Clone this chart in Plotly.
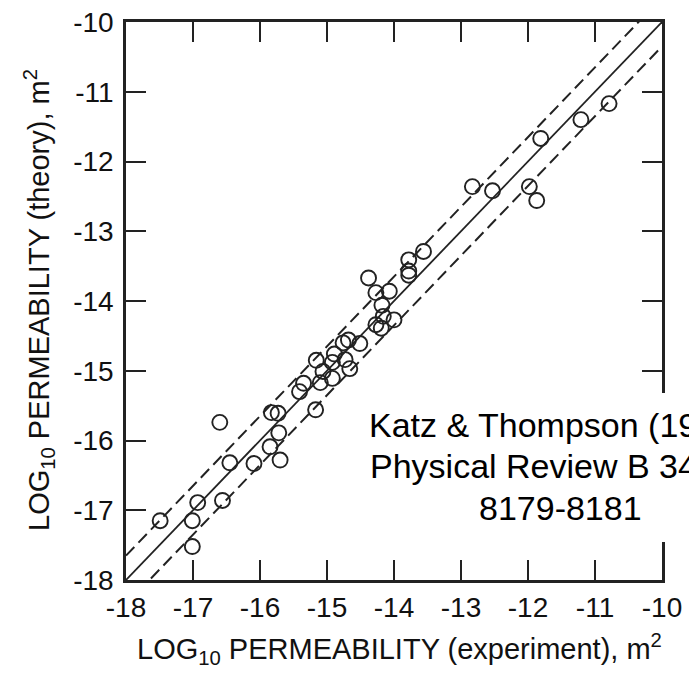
import plotly.graph_objects as go

# ---- data ----
log_k_experiment = [
    -17.49, -17.01, -17.01, -16.93, -16.56, -16.60, -16.45, -16.09, -15.85, -15.70,
    -15.72, -15.83, -15.73, -15.17, -15.41, -15.35, -15.10, -15.06, -14.92, -15.16,
    -14.89, -14.92, -14.73, -14.66, -14.76, -14.68, -14.51, -14.27, -14.19, -14.16,
    -14.00, -14.18, -14.27, -14.07, -14.38, -13.78, -13.78, -13.78, -13.56, -12.83,
    -12.53, -11.98, -11.87, -11.81, -11.21, -10.79,
]
log_k_theory = [
    -17.15, -17.15, -17.52, -16.89, -16.86, -15.74, -16.32, -16.33, -16.09, -16.28,
    -15.89, -15.60, -15.61, -15.56, -15.30, -15.18, -15.17, -15.01, -15.11, -14.85,
    -14.76, -14.88, -14.84, -14.97, -14.60, -14.56, -14.61, -14.34, -14.39, -14.22,
    -14.27, -14.06, -13.88, -13.86, -13.67, -13.41, -13.57, -13.63, -13.29, -12.36,
    -12.42, -12.36, -12.56, -11.67, -11.40, -11.17,
]
line_x = [-18, -10]
band = 0.35  # dashed-line offset (log units)
tick_vals = [-18, -17, -16, -15, -14, -13, -12, -11, -10]
tick_text = ["-18", "-17", "-16", "-15", "-14", "-13", "-12", "-11", "-10"]

FONT = "Arial, Liberation Sans, Helvetica, sans-serif"
INK = "#222222"

fig = go.Figure()
fig.add_trace(go.Scatter(x=line_x, y=line_x, mode="lines",
                         line=dict(color=INK, width=1.8), showlegend=False, hoverinfo="skip"))
fig.add_trace(go.Scatter(x=line_x, y=[v + band for v in line_x], mode="lines",
                         line=dict(color=INK, width=2, dash="12px,6px"), showlegend=False, hoverinfo="skip"))
fig.add_trace(go.Scatter(x=line_x, y=[v - band for v in line_x], mode="lines",
                         line=dict(color=INK, width=2, dash="12px,6px"), showlegend=False, hoverinfo="skip"))
fig.add_trace(go.Scatter(x=log_k_experiment, y=log_k_theory, mode="markers",
                         marker=dict(symbol="circle-open", size=15, color=INK, line=dict(width=1.9)),
                         showlegend=False))

axis_common = dict(
    range=[-18, -10], tickvals=tick_vals, ticktext=tick_text,
    showgrid=False, zeroline=False,
    showline=True, linecolor=INK, linewidth=2.5, mirror="ticks",
    ticks="inside", ticklen=20, tickwidth=2, tickcolor=INK,
    tickfont=dict(family=FONT, size=28, color="#111111"),
)
fig.update_xaxes(**axis_common, ticklabelstandoff=1)
fig.update_yaxes(**axis_common, ticklabelstandoff=4)

W, H = 689, 673
L, R, T, B = 126, 27, 22, 93
pw, ph = W - L - R, H - T - B

def px(xp):
    return (xp - L) / pw

def py(yp):
    return (H - B - yp) / ph

# white box behind the citation text
fig.add_shape(type="rect", xref="paper", yref="paper",
              x0=px(360), x1=1.2, y0=py(542), y1=py(393),
              fillcolor="white", line=dict(width=0), layer="above")

cite_font = dict(family=FONT, size=34, color="black")
fig.add_annotation(text="Katz & Thompson (1986)", xref="paper", yref="paper",
                   x=px(367), y=py(425), xanchor="left", yanchor="middle",
                   showarrow=False, font=cite_font)
fig.add_annotation(text="Physical Review B 34,", xref="paper", yref="paper",
                   x=px(368), y=py(466), xanchor="left", yanchor="middle",
                   showarrow=False, font=cite_font)
fig.add_annotation(text="8179-8181", xref="paper", yref="paper",
                   x=px(560.5), y=py(508), xanchor="center", yanchor="middle",
                   showarrow=False, font=cite_font)

title_font = dict(family=FONT, size=29, color="#111111")
fig.add_annotation(text="LOG<sub>10</sub> PERMEABILITY (experiment), m<sup>2</sup>",
                   xref="paper", yref="paper", x=px(399), y=py(649),
                   xanchor="center", yanchor="middle", showarrow=False, font=title_font)
fig.add_annotation(text="LOG<sub>10</sub> PERMEABILITY (theory), m<sup>2</sup>",
                   xref="paper", yref="paper", x=px(39), y=py(300),
                   xanchor="center", yanchor="middle", textangle=-90,
                   showarrow=False, font=title_font)

fig.update_layout(
    width=W, height=H, margin=dict(l=L, r=R, t=T, b=B, autoexpand=False),
    paper_bgcolor="white", plot_bgcolor="white",
)
fig.write_html("out.html")
